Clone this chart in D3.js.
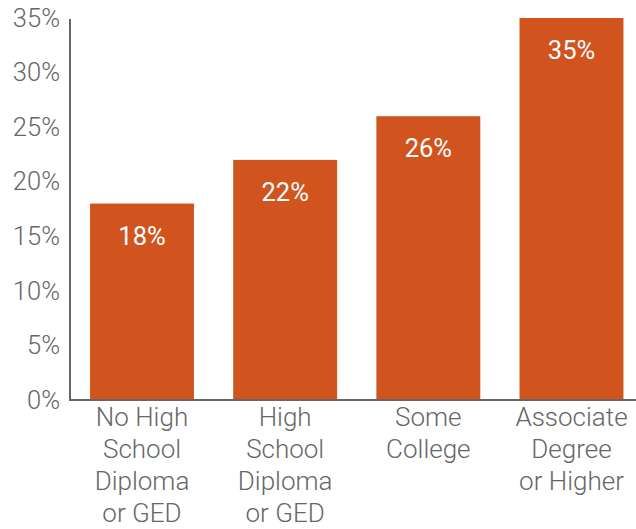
<!DOCTYPE html>
<html><head><meta charset="utf-8">
<script src="https://cdn.jsdelivr.net/npm/d3@7"></script>
<style>body{margin:0;background:#fff}</style>
</head><body>
<svg id="c" width="636" height="529"></svg>
<script>
const categories = [["No High","School","Diploma","or GED"],["High","School","Diploma","or GED"],["Some","College"],["Associate","Degree","or Higher"]];
const values = [18, 22, 26, 35];
const yTicks = [0,5,10,15,20,25,30,35];

const svg = d3.select("#c");
const x = d3.scaleBand().domain(d3.range(categories.length)).range([70, 643.5]).paddingInner(0.274).paddingOuter(0.14);
const y = d3.scaleLinear().domain([0, 35]).range([400, 18]);
const lightFont = "'Roboto Light', Roboto, sans-serif";

svg.selectAll("rect.bar").data(values).join("rect")
  .attr("x", (d,i)=>x(i)).attr("width", x.bandwidth())
  .attr("y", d=>y(d)).attr("height", d=>y(0)-y(d))
  .attr("fill", "#D1541F");

svg.selectAll("text.val").data(values).join("text")
  .attr("x", (d,i)=>x(i)+x.bandwidth()/2).attr("y", d=>y(d)+41)
  .attr("text-anchor","middle").attr("fill","#fff")
  .style("font-family","Roboto").style("font-size","25.5px").style("font-weight",400)
  .text(d=>d+"%");

const yAxis = svg.append("g").attr("transform","translate(70,0)")
  .call(d3.axisLeft(y).tickValues(yTicks).tickSize(0).tickPadding(10).tickFormat(d=>d+"%"));
yAxis.select(".domain").attr("stroke","#666").attr("stroke-width",2).attr("d","M0,19V401");
yAxis.selectAll("text").attr("fill","#666").style("font-family",lightFont).style("font-size","25.5px").style("font-weight",300);

const xAxis = svg.append("g").attr("transform","translate(0,400)")
  .call(d3.axisBottom(x).tickSize(0).tickFormat(""));
xAxis.select(".domain").attr("stroke","#666").attr("stroke-width",2).attr("d","M69,0H636");
xAxis.selectAll(".tick text").remove();
xAxis.selectAll(".tick").each(function(d){
  const t = d3.select(this).append("text").attr("text-anchor","middle").attr("fill","#666")
    .style("font-family",lightFont).style("font-size","26px").style("font-weight",300);
  categories[d].forEach((line,j)=>{
    t.append("tspan").attr("x",0).attr("y",26+j*32).text(line);
  });
});
</script>
</body></html>
